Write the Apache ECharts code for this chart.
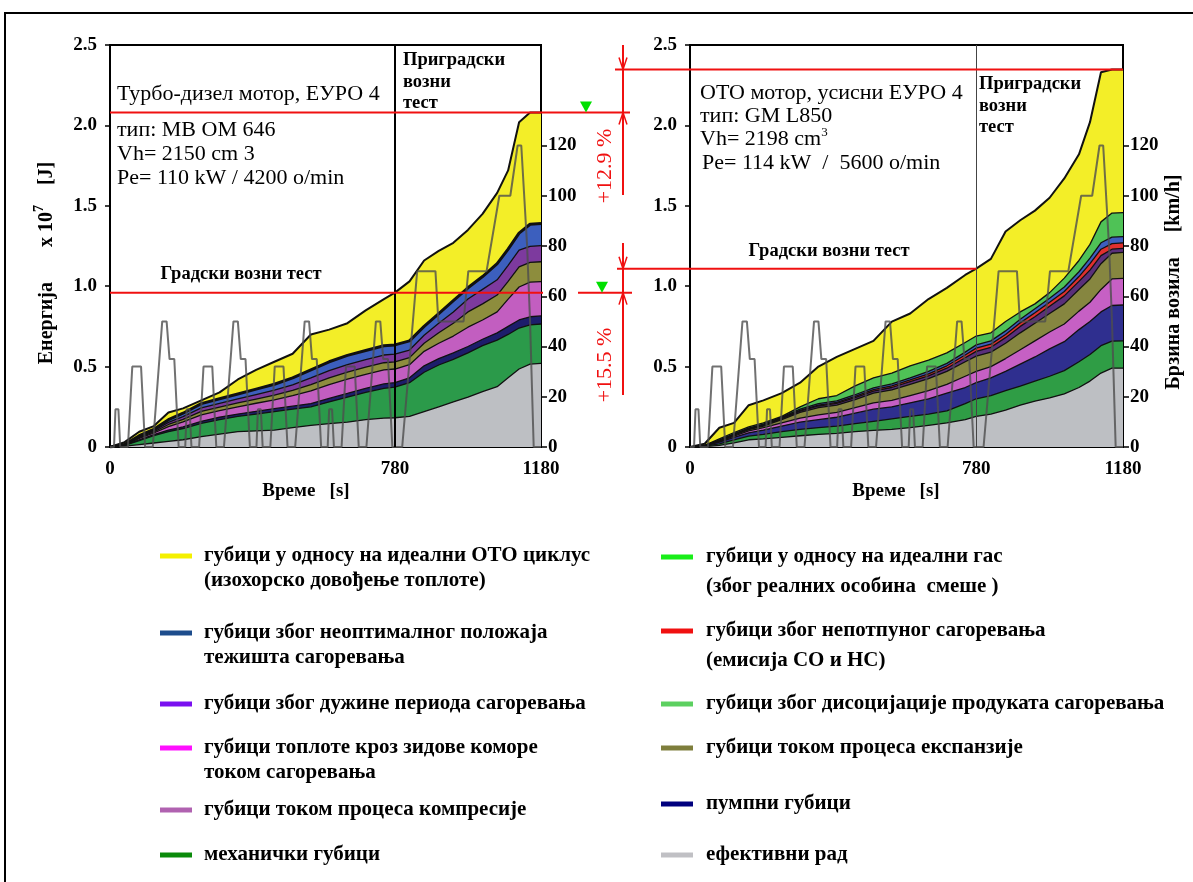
<!DOCTYPE html>
<html>
<head>
<meta charset="utf-8">
<script src="https://cdn.jsdelivr.net/npm/echarts@6/dist/echarts.min.js"></script>
<style>
  html, body { margin: 0; padding: 0; background: #fff; }
  #chart { width: 1193px; height: 882px; }
</style>
</head>
<body>
<div id="chart"></div>
<script>
// Time grid of the NEDC test, s
const time = [0, 40, 80, 120, 160, 200, 250, 300, 350, 400, 450, 500, 550, 600, 650, 700, 750, 780,
              820, 860, 900, 940, 980, 1020, 1060, 1090, 1120, 1150, 1180];

// Turbo-diesel engine: cumulative upper edge of each energy band, J x 10^7
const dGray   = [0, 0.005, 0.015, 0.025, 0.035, 0.045, 0.065, 0.08, 0.095, 0.10, 0.105, 0.12, 0.135, 0.145, 0.155, 0.17, 0.18, 0.182, 0.19, 0.22, 0.25, 0.28, 0.31, 0.345, 0.375, 0.43, 0.485, 0.515, 0.52];
const dGreen  = [0, 0.01, 0.04, 0.07, 0.095, 0.115, 0.147, 0.17, 0.19, 0.205, 0.22, 0.235, 0.25, 0.28, 0.31, 0.34, 0.365, 0.373, 0.40, 0.465, 0.51, 0.545, 0.585, 0.63, 0.665, 0.70, 0.74, 0.76, 0.765];
const dNavy   = [0, 0.012, 0.045, 0.077, 0.105, 0.125, 0.16, 0.185, 0.205, 0.222, 0.238, 0.254, 0.27, 0.302, 0.333, 0.365, 0.392, 0.40, 0.43, 0.505, 0.55, 0.585, 0.625, 0.67, 0.71, 0.75, 0.79, 0.81, 0.815];
const dPink   = [0, 0.012, 0.053, 0.087, 0.127, 0.156, 0.20, 0.226, 0.25, 0.272, 0.293, 0.319, 0.349, 0.388, 0.422, 0.452, 0.479, 0.485, 0.512, 0.595, 0.645, 0.69, 0.745, 0.79, 0.84, 0.92, 0.995, 1.025, 1.028];
const dOlive  = [0, 0.013, 0.058, 0.094, 0.14, 0.172, 0.221, 0.248, 0.274, 0.298, 0.322, 0.352, 0.388, 0.43, 0.466, 0.496, 0.524, 0.53, 0.556, 0.645, 0.71, 0.77, 0.84, 0.89, 0.945, 1.03, 1.12, 1.148, 1.152];
const dPurple = [0, 0.014, 0.063, 0.101, 0.153, 0.189, 0.243, 0.271, 0.299, 0.326, 0.353, 0.387, 0.43, 0.475, 0.513, 0.543, 0.572, 0.578, 0.603, 0.695, 0.77, 0.84, 0.92, 0.98, 1.04, 1.13, 1.225, 1.248, 1.252];
const dBlue   = [0, 0.015, 0.07, 0.11, 0.17, 0.21, 0.27, 0.30, 0.33, 0.36, 0.39, 0.43, 0.48, 0.53, 0.57, 0.60, 0.63, 0.635, 0.66, 0.75, 0.83, 0.91, 0.99, 1.06, 1.14, 1.23, 1.33, 1.385, 1.39];
const dYellow = [0, 0.03, 0.095, 0.13, 0.215, 0.24, 0.29, 0.34, 0.42, 0.48, 0.53, 0.58, 0.70, 0.73, 0.77, 0.85, 0.92, 0.96, 1.03, 1.16, 1.22, 1.27, 1.35, 1.45, 1.58, 1.72, 2.02, 2.08, 2.08];

// Naturally aspirated SI engine: cumulative upper edge of each energy band, J x 10^7
const gGray   = [0, 0.002, 0.01, 0.025, 0.045, 0.05, 0.06, 0.07, 0.078, 0.085, 0.095, 0.103, 0.11, 0.12, 0.135, 0.15, 0.17, 0.19, 0.205, 0.23, 0.26, 0.285, 0.305, 0.33, 0.37, 0.41, 0.46, 0.49, 0.49];
const gGreen  = [0, 0.005, 0.02, 0.045, 0.068, 0.078, 0.095, 0.11, 0.12, 0.13, 0.145, 0.16, 0.175, 0.19, 0.205, 0.225, 0.27, 0.30, 0.32, 0.35, 0.378, 0.41, 0.44, 0.475, 0.53, 0.575, 0.63, 0.658, 0.66];
const gNavy   = [0, 0.007, 0.03, 0.06, 0.088, 0.105, 0.13, 0.155, 0.17, 0.185, 0.21, 0.235, 0.25, 0.275, 0.30, 0.335, 0.37, 0.40, 0.43, 0.47, 0.515, 0.56, 0.61, 0.655, 0.73, 0.78, 0.84, 0.88, 0.883];
const gPink   = [0, 0.008, 0.034, 0.068, 0.10, 0.12, 0.15, 0.18, 0.20, 0.215, 0.245, 0.275, 0.29, 0.32, 0.35, 0.39, 0.44, 0.47, 0.50, 0.55, 0.605, 0.66, 0.715, 0.765, 0.845, 0.90, 0.98, 1.045, 1.049];
const gOlive  = [0, 0.009, 0.038, 0.074, 0.108, 0.13, 0.17, 0.215, 0.245, 0.26, 0.295, 0.335, 0.355, 0.39, 0.425, 0.47, 0.53, 0.565, 0.59, 0.645, 0.71, 0.77, 0.83, 0.89, 0.98, 1.045, 1.14, 1.205, 1.21];
const gPurple = [0, 0.009, 0.04, 0.077, 0.112, 0.135, 0.177, 0.223, 0.255, 0.271, 0.307, 0.348, 0.37, 0.406, 0.442, 0.49, 0.555, 0.595, 0.62, 0.68, 0.75, 0.81, 0.875, 0.94, 1.03, 1.10, 1.19, 1.23, 1.235];
const gRed    = [0, 0.009, 0.041, 0.079, 0.115, 0.138, 0.181, 0.228, 0.261, 0.278, 0.315, 0.357, 0.38, 0.417, 0.455, 0.505, 0.572, 0.615, 0.64, 0.70, 0.772, 0.835, 0.90, 0.967, 1.06, 1.14, 1.23, 1.265, 1.27];
const gBlue   = [0, 0.01, 0.043, 0.082, 0.118, 0.142, 0.186, 0.235, 0.27, 0.287, 0.325, 0.368, 0.392, 0.43, 0.47, 0.52, 0.59, 0.635, 0.66, 0.722, 0.795, 0.86, 0.925, 0.995, 1.09, 1.175, 1.27, 1.305, 1.308];
const gLight  = [0, 0.01, 0.05, 0.09, 0.125, 0.15, 0.19, 0.25, 0.30, 0.32, 0.38, 0.43, 0.46, 0.505, 0.54, 0.585, 0.65, 0.69, 0.71, 0.78, 0.84, 0.89, 0.96, 1.05, 1.16, 1.26, 1.40, 1.455, 1.457];
const gYellow = [0, 0.02, 0.12, 0.15, 0.26, 0.29, 0.335, 0.40, 0.50, 0.56, 0.61, 0.66, 0.78, 0.83, 0.92, 0.99, 1.07, 1.109, 1.17, 1.34, 1.41, 1.47, 1.55, 1.67, 1.82, 2.02, 2.33, 2.348, 2.348];

// NEDC vehicle speed: 4 x ECE-15 urban cycle + EUDC
const speedTime = [
  0, 11, 15, 23, 28, 49, 61, 85, 96, 117, 143, 155, 163, 176, 188,
  206, 210, 218, 223, 244, 256, 280, 291, 312, 338, 350, 358, 371, 383,
  401, 405, 413, 418, 439, 451, 475, 486, 507, 533, 545, 553, 566, 578,
  596, 600, 608, 613, 634, 646, 670, 681, 702, 728, 740, 748, 761, 773,
  800, 841, 891, 899, 968, 981, 1031, 1066, 1096, 1116, 1126, 1142, 1150, 1160, 1180];
const speedKmh = [
  0, 0, 15, 15, 0, 0, 32, 32, 0, 0, 50, 50, 35, 35, 0,
  0, 15, 15, 0, 0, 32, 32, 0, 0, 50, 50, 35, 35, 0,
  0, 15, 15, 0, 0, 32, 32, 0, 0, 50, 50, 35, 35, 0,
  0, 15, 15, 0, 0, 32, 32, 0, 0, 50, 50, 35, 35, 0,
  0, 70, 70, 50, 50, 70, 70, 100, 100, 120, 120, 80, 50, 0, 0];

const xTicks = [0, 780, 1180];
const speedTicks = [0, 20, 40, 60, 80, 100, 120];
const urbanEnd = 780;

const SERIF = '"Liberation Serif", "DejaVu Serif", serif';

const chart = echarts.init(document.getElementById('chart'), null, { renderer: 'canvas' });

function band(name, tops, color, gi, lw) {
  return {
    name, type: 'line', xAxisIndex: gi, yAxisIndex: gi * 2,
    data: time.map((t, i) => [t, tops[i]]),
    symbol: 'none', silent: true, z: 2,
    lineStyle: { color: '#111', width: lw || 1.3 },
    areaStyle: { color: color, opacity: 1 },
    itemStyle: { color: color }
  };
}

function speedSeries(gi, lineColor, lineWidth) {
  return {
    name: 'v' + gi, type: 'line', xAxisIndex: gi, yAxisIndex: gi * 2 + 1,
    data: speedTime.map((t, i) => [t, speedKmh[i]]),
    symbol: 'none', silent: true, z: 4,
    lineStyle: { color: '#4d4d4d', width: 2, opacity: 0.8 },
    markLine: {
      silent: true, symbol: 'none', label: { show: false },
      lineStyle: { color: lineColor, width: lineWidth, type: 'solid', opacity: 1 },
      data: [{ xAxis: urbanEnd }]
    }
  };
}

const tickFont = { color: '#000', fontFamily: SERIF, fontWeight: 'bold', fontSize: 19 };

function xAxisCfg(gi) {
  return {
    type: 'value', gridIndex: gi, min: 0, max: 1180,
    axisLine: { show: true, onZero: false, lineStyle: { color: '#000', width: 2 } },
    axisTick: { show: false },
    splitLine: { show: false },
    axisLabel: Object.assign({ customValues: xTicks, margin: 13, formatter: v => String(v) }, tickFont)
  };
}
function energyAxis(gi) {
  return {
    type: 'value', gridIndex: gi, min: 0, max: 2.5, interval: 0.5, position: 'left',
    axisLine: { show: true, lineStyle: { color: '#000', width: 2 } },
    axisTick: { show: true, length: 5, lineStyle: { color: '#000', width: 1.5 } },
    splitLine: { show: false },
    axisLabel: Object.assign({ margin: 13, formatter: v => v === 0 ? '0' : v.toFixed(1) }, tickFont)
  };
}
function speedAxis(gi) {
  return {
    type: 'value', gridIndex: gi, min: 0, max: 160, interval: 20, position: 'right',
    axisLine: { show: true, lineStyle: { color: '#000', width: 2 } },
    axisTick: { show: true, length: 6, customValues: speedTicks, lineStyle: { color: '#000', width: 1.5 } },
    splitLine: { show: false },
    axisLabel: Object.assign({ customValues: speedTicks, margin: 7, formatter: v => String(v) }, tickFont)
  };
}

// Legend entries: [colour, first line, second line, y]
const legendLeft = [
  ['#f4f000', 'губици у односу на идеални ОТО циклус', '(изохорско довођење топлоте)', 556],
  ['#1d4c8c', 'губици због неоптималног положаја', 'тежишта сагоревања', 633],
  ['#7a10f0', 'губици због дужине периода сагоревања', '', 704],
  ['#ff10ff', 'губици топлоте кроз зидове коморе', 'током сагоревања', 748],
  ['#b062b0', 'губици током процеса компресије', '', 810],
  ['#0a8a0a', 'механички губици', '', 855]
];
const legendRight = [
  ['#19ee19', 'губици у односу на идеални гас', '(због реалних особина  смеше )', 557],
  ['#f01010', 'губици због непотпуног сагоревања', '(емисија CO и HC)', 631],
  ['#5cd060', 'губици због дисоцијације продуката сагоревања', '', 704],
  ['#7e7e3c', 'губици током процеса експанзије', '', 748],
  ['#00007e', 'пумпни губици', '', 804],
  ['#c0c0c4', 'ефективни рад', '', 855]
];

const LEGEND_FONT = 'bold 21px ' + SERIF;

function legendGraphics() {
  const out = [];
  const add = (list, barX, textX, gap) => {
    list.forEach(([c, l1, l2, y]) => {
      out.push({ type: 'rect', shape: { x: barX, y: y - 2.5, width: 32, height: 5 }, style: { fill: c } });
      out.push({ type: 'text', x: textX, y: y, style: { text: l1, font: LEGEND_FONT, fill: '#000', verticalAlign: 'middle' } });
      if (l2) out.push({ type: 'text', x: textX, y: y + gap, style: { text: l2, font: LEGEND_FONT, fill: '#000', verticalAlign: 'middle' } });
    });
  };
  add(legendLeft, 160, 204, 25);
  add(legendRight, 661, 706, 30);
  return out;
}

function txt(x, y, text, font, extra) {
  return Object.assign({ type: 'text', x, y, z: 10,
    style: Object.assign({ text, font, fill: '#000', verticalAlign: 'middle' }, extra || {}) });
}

const REG = '22px ' + SERIF;
const BOLD = 'bold 18.5px ' + SERIF;

const staticGraphics = [
  // outer frame
  { type: 'polyline', shape: { points: [[5, 882], [5, 13], [1193, 13]] }, style: { stroke: '#000', lineWidth: 2, fill: null } },
  // diesel engine labels
  txt(117, 94, 'Турбо-дизел мотор, ЕУРО 4', REG),
  txt(117, 130, 'тип: МВ ОМ 646', REG),
  txt(117, 154, 'Vh= 2150 cm 3', REG),
  txt(117, 178, 'Pe= 110 kW / 4200 o/min', REG),
  txt(403, 60, 'Приградски', BOLD), txt(403, 82, 'возни', BOLD), txt(403, 103, 'тест', BOLD),
  txt(241, 274, 'Градски возни тест', BOLD, { align: 'center' }),
  // SI engine labels
  txt(700, 93, 'ОТО мотор, усисни ЕУРО 4', REG),
  txt(700, 116, 'тип: GM L850', REG),
  { type: 'text', x: 700, y: 139, z: 10, style: { text: 'Vh= 2198 cm{s|3}', font: REG, fill: '#000', verticalAlign: 'middle',
      rich: { s: { fontSize: 13, fontFamily: SERIF, verticalAlign: 'top', padding: [0, 0, 12, 0] } } } },
  txt(702, 163, 'Pe= 114 kW  /  5600 o/min', REG),
  txt(979, 84, 'Приградски', BOLD), txt(979, 106, 'возни', BOLD), txt(979, 127, 'тест', BOLD),
  txt(829, 251, 'Градски возни тест', BOLD, { align: 'center' }),
  // axis titles
  txt(306, 491, 'Време   [s]', 'bold 19px ' + SERIF, { align: 'center' }),
  txt(896, 491, 'Време   [s]', 'bold 19px ' + SERIF, { align: 'center' }),
  { type: 'text', x: 47, y: 263, rotation: Math.PI / 2, z: 10,
    style: { text: 'Енергија       x 10{s|7}    [J]', font: 'bold 20px ' + SERIF, fill: '#000',
             align: 'center', verticalAlign: 'middle',
             rich: { s: { fontSize: 14, fontFamily: SERIF, fontWeight: 'bold', padding: [0, 0, 16, 0] } } } },
  { type: 'text', x: 1174, y: 282, rotation: Math.PI / 2, z: 10,
    style: { text: 'Брзина возила     [km/h]', font: 'bold 20px ' + SERIF, fill: '#000',
             align: 'center', verticalAlign: 'middle' } }
].concat(legendGraphics());

chart.setOption({
  animation: false,
  backgroundColor: '#fff',
  grid: [
    { left: 110, right: 652, top: 45, bottom: 435, show: true, borderColor: '#000', borderWidth: 2, backgroundColor: 'transparent' },
    { left: 690, right: 70, top: 45, bottom: 435, show: true, borderColor: '#000', borderWidth: 2, backgroundColor: 'transparent' }
  ],
  xAxis: [xAxisCfg(0), xAxisCfg(1)],
  yAxis: [energyAxis(0), speedAxis(0), energyAxis(1), speedAxis(1)],
  series: [
    band('d-yellow', dYellow, '#f3ee28', 0, 2),
    band('d-blue', dBlue, '#3c5fbe', 0, 3),
    band('d-purple', dPurple, '#7d3a9e', 0),
    band('d-olive', dOlive, '#8d8d3d', 0),
    band('d-pink', dPink, '#c25ec0', 0),
    band('d-navy', dNavy, '#1d1d6b', 0),
    band('d-green', dGreen, '#2b9a4a', 0),
    band('d-gray', dGray, '#bdbfc3', 0),
    speedSeries(0, '#000', 2),

    band('g-yellow', gYellow, '#f3ee28', 1, 2),
    band('g-light', gLight, '#4fc256', 1),
    band('g-blue', gBlue, '#3d5fbf', 1),
    band('g-red', gRed, '#e0302e', 1),
    band('g-purple', gPurple, '#5a2f7a', 1),
    band('g-olive', gOlive, '#868640', 1),
    band('g-pink', gPink, '#c660c4', 1),
    band('g-navy', gNavy, '#2f2f8f', 1),
    band('g-green', gGreen, '#2f9d45', 1),
    band('g-gray', gGray, '#bdbfc3', 1),
    speedSeries(1, '#444', 1)
  ],
  graphic: staticGraphics
});

// Red comparison markers, placed through the axes' own scales
const last = time.length - 1;
const iUrban = time.indexOf(urbanEnd);
const pD = (t, v) => chart.convertToPixel({ xAxisIndex: 0, yAxisIndex: 0 }, [t, v]);
const pG = (t, v) => chart.convertToPixel({ xAxisIndex: 1, yAxisIndex: 2 }, [t, v]);

const yDTotal = pD(0, dYellow[last])[1];
const yDUrban = pD(0, dYellow[iUrban])[1];
const yGTotal = pG(0, gYellow[last])[1];
const yGUrban = pG(0, gYellow[iUrban])[1];
const xD0 = pD(0, 0)[0], xDEnd = pD(1180, 0)[0];
const xG780 = pG(urbanEnd, 0)[0], xGEnd = pG(1180, 0)[0];

const pctTotal = ((gYellow[last] / dYellow[last] - 1) * 100).toFixed(1);
const pctUrban = ((gYellow[iUrban] / dYellow[iUrban] - 1) * 100).toFixed(1);

const RED = '#f01010';
const dimX = 623;
const redLine = (x1, y1, x2, y2) => ({ type: 'line', z: 12, shape: { x1, y1, x2, y2 }, style: { stroke: RED, lineWidth: 2 } });
const arrow = (x, yTip, dir) => ({ type: 'polyline', z: 12,
  shape: { points: [[x - 4, yTip - dir * 12], [x, yTip], [x + 4, yTip - dir * 12]] },
  style: { stroke: RED, lineWidth: 1.5, fill: null } });
const tri = (x, yTip) => ({ type: 'polygon', z: 12,
  shape: { points: [[x - 6, yTip - 11], [x + 6, yTip - 11], [x, yTip]] },
  style: { fill: '#00e000' } });
const pct = (y, s) => ({ type: 'text', x: 605, y, rotation: Math.PI / 2, z: 12,
  style: { text: '+' + s + ' %', font: '22px ' + SERIF, fill: RED, align: 'center', verticalAlign: 'middle' } });

const markers = [
  redLine(xD0, yDTotal, 630, yDTotal),
  redLine(xD0, yDUrban, xDEnd + 2, yDUrban),
  redLine(578, yDUrban, 632, yDUrban),
  redLine(615, yGTotal, xGEnd, yGTotal),
  redLine(617, yGUrban, xG780, yGUrban),
  redLine(dimX, 45, dimX, 195),
  redLine(dimX, 243, dimX, 395),
  arrow(dimX, yGTotal, 1), arrow(dimX, yDTotal, -1),
  arrow(dimX, yGUrban, 1), arrow(dimX, yDUrban, -1),
  tri(586, yDTotal), tri(602, yDUrban),
  pct(166, pctTotal), pct(365, pctUrban)
];

chart.setOption({ graphic: staticGraphics.concat(markers) });
</script>
</body>
</html>
